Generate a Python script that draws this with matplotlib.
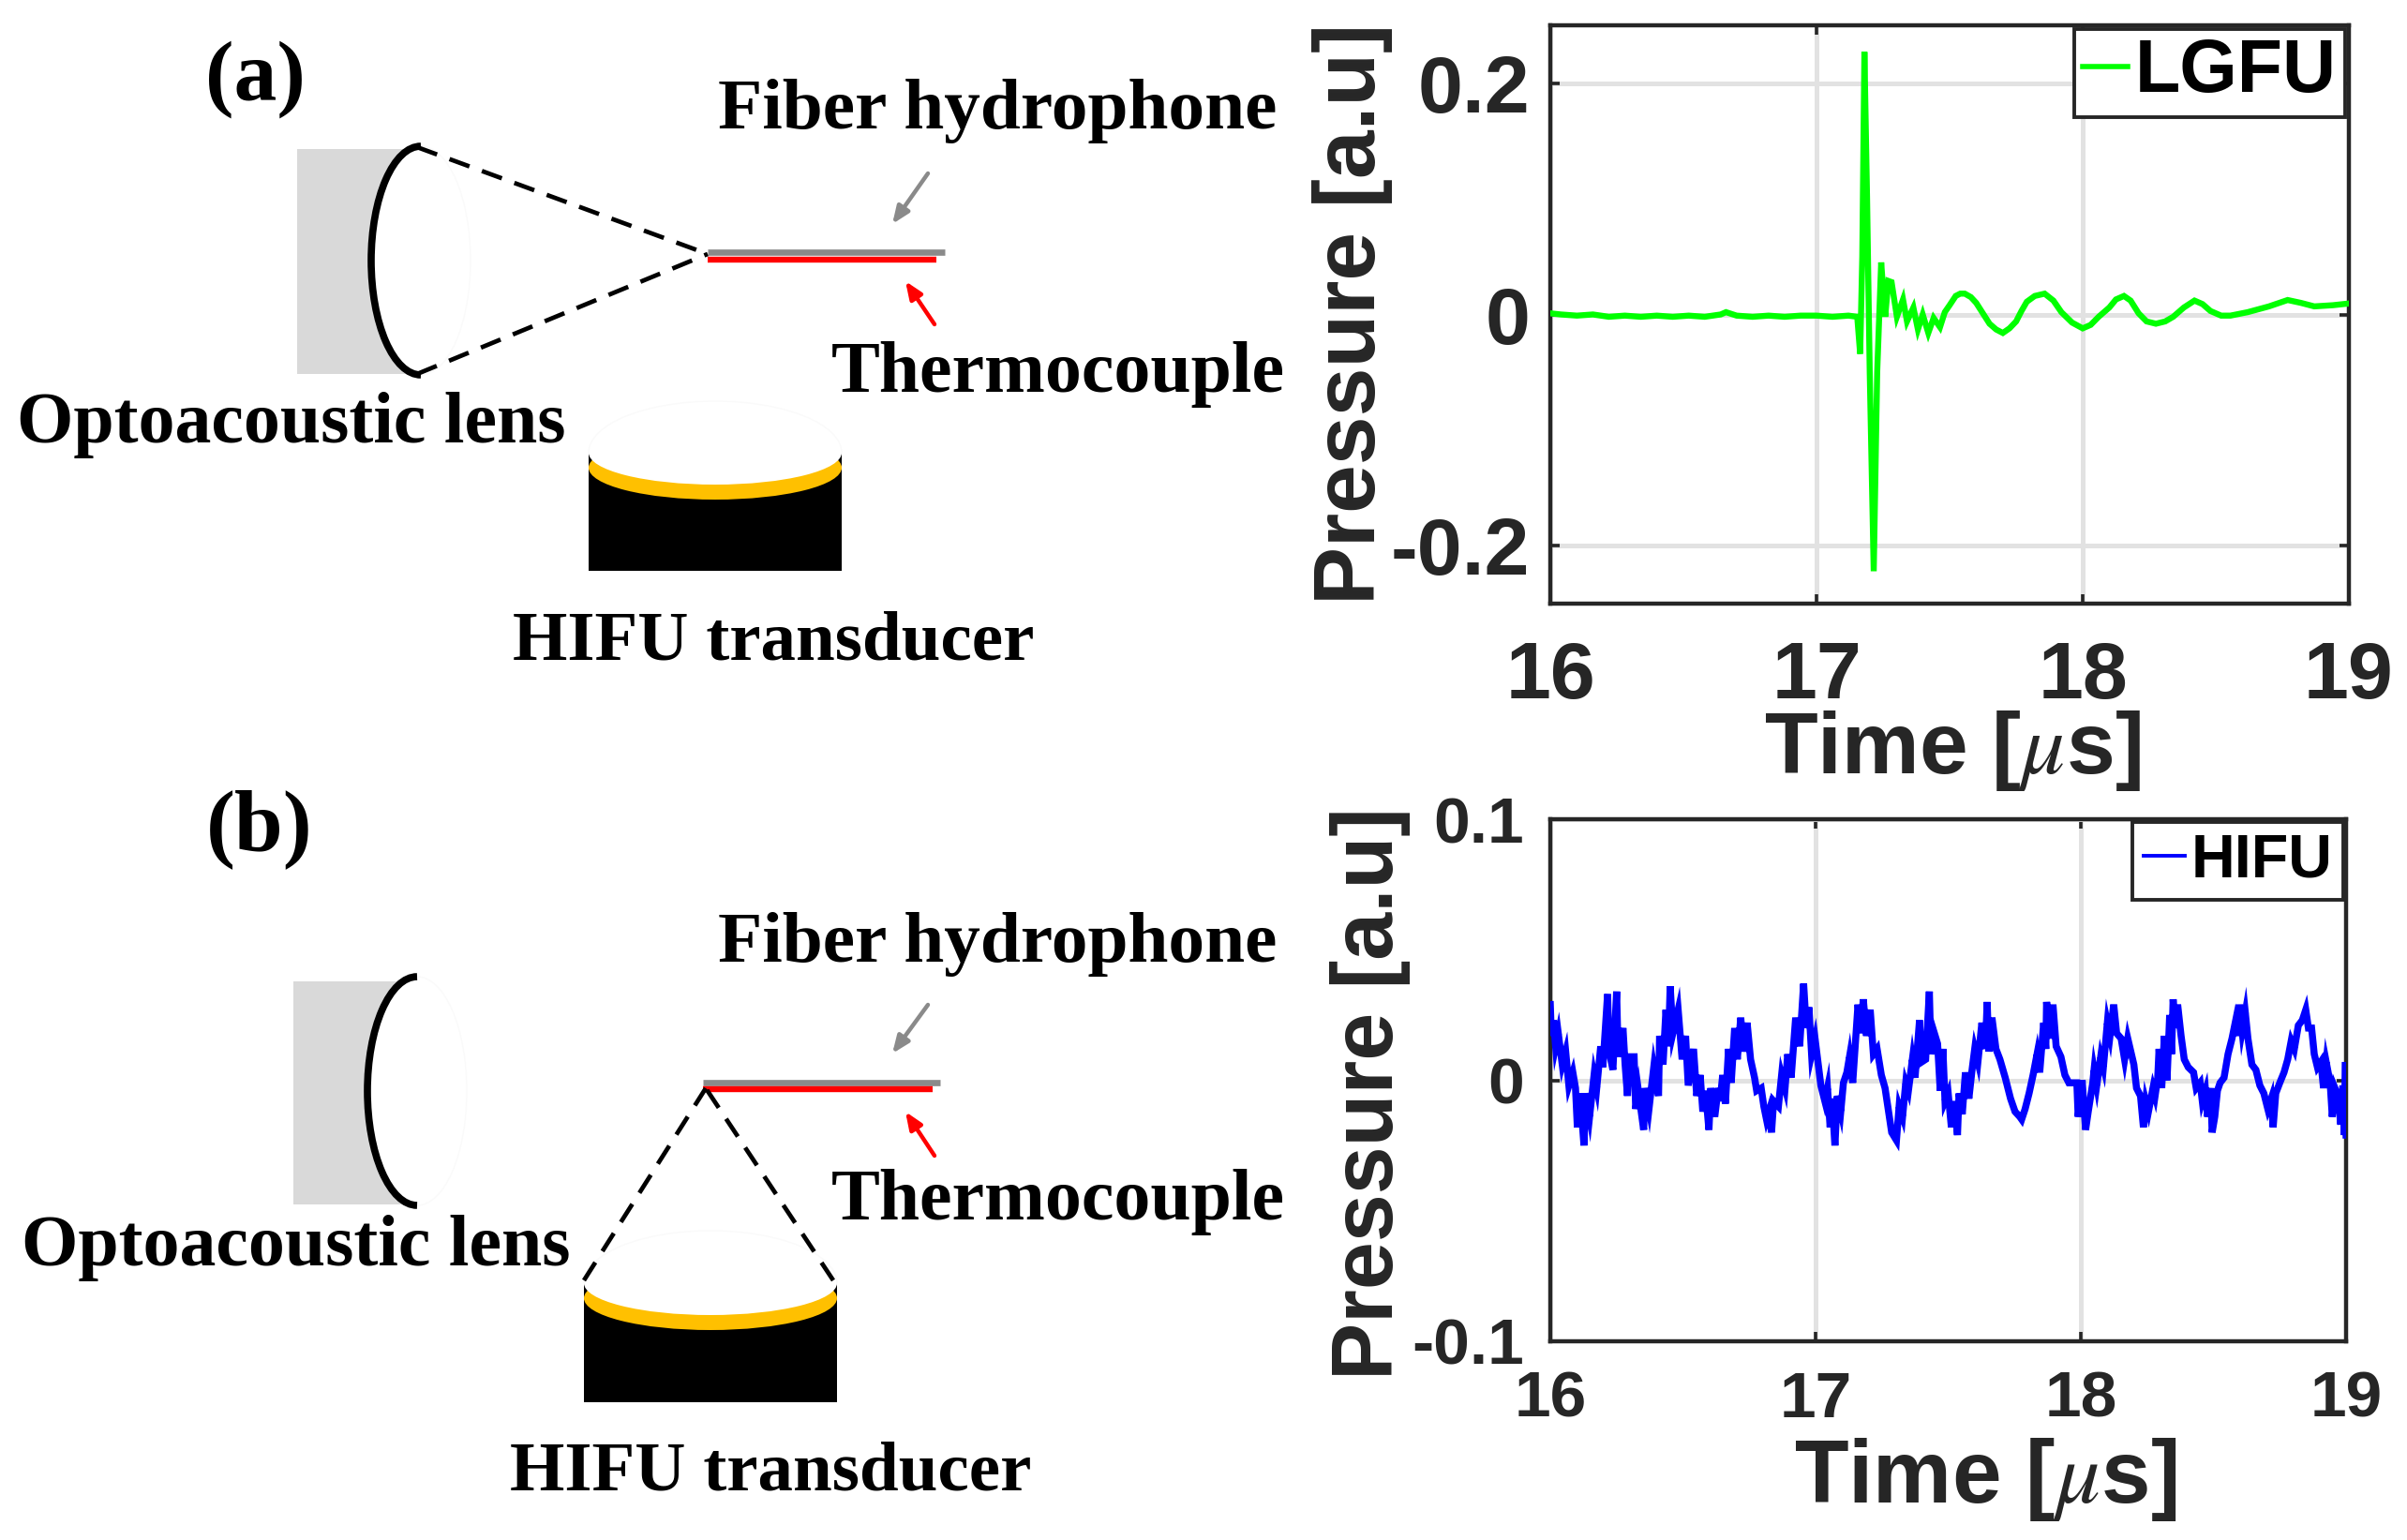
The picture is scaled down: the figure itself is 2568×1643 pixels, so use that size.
import matplotlib
matplotlib.use("Agg")
import matplotlib.pyplot as plt
from matplotlib.patches import Arc, Ellipse, Rectangle

W, H = 2568, 1643
plt.rcParams['axes.unicode_minus'] = False
plt.rcParams['mathtext.fontset'] = 'stix'

# readings of the LGFU trace
lgfu_t = [16.0, 16.04, 16.1, 16.16, 16.22, 16.28, 16.34, 16.4, 16.46, 16.52, 16.58, 16.64, 16.66, 16.7,
          16.76, 16.82, 16.88, 16.94, 17.0, 17.06, 17.12, 17.153, 17.164, 17.172, 17.18, 17.19, 17.2, 17.215,
          17.228, 17.243, 17.258, 17.27, 17.282, 17.302, 17.325, 17.34, 17.364, 17.381, 17.399, 17.42, 17.44,
          17.464, 17.482, 17.5, 17.523, 17.54, 17.557, 17.58, 17.6, 17.625, 17.65, 17.675, 17.7, 17.725, 17.75,
          17.77, 17.79, 17.82, 17.857, 17.89, 17.92, 17.96, 18.0, 18.03, 18.06, 18.1, 18.125, 18.155, 18.18,
          18.21, 18.24, 18.275, 18.31, 18.34, 18.38, 18.42, 18.45, 18.48, 18.52, 18.555, 18.62, 18.7, 18.77,
          18.82, 18.87, 18.94, 19.0]
lgfu_p = [0.001, 0.000, -0.001, 0.000, -0.002, -0.001, -0.002, -0.001, -0.002, -0.001, -0.002, 0.000, 0.002, -0.001,
          -0.002, -0.001, -0.002, -0.001, -0.001, -0.002, -0.001, -0.002, -0.034, 0.05, 0.227, 0.1, -0.05, -0.222,
          -0.05, 0.045, -0.002, 0.029, 0.028, -0.002, 0.013, -0.006, 0.006, -0.013, 0.000, -0.016, -0.003,
          -0.011, 0.002, 0.008, 0.016, 0.018, 0.018, 0.015, 0.010, 0.001, -0.008, -0.013, -0.016, -0.012, -0.006,
          0.003, 0.011, 0.016, 0.018, 0.012, 0.002, -0.007, -0.012, -0.009, -0.002, 0.006, 0.013, 0.016, 0.012,
          0.001, -0.006, -0.008, -0.006, -0.002, 0.006, 0.012, 0.009, 0.003, -0.001, -0.001, 0.002, 0.007, 0.0125,
          0.010, 0.007, 0.008, 0.0095]

# readings of the HIFU trace (upper and lower edge of the noisy band, taken in turn)
hifu_t = [16.000, 16.004, 16.012, 16.020, 16.030, 16.045, 16.058, 16.070, 16.085, 16.095, 16.102, 16.112, 16.127,
          16.133, 16.148, 16.165, 16.175, 16.190, 16.198, 16.216, 16.222, 16.236, 16.250, 16.256, 16.274, 16.282,
          16.291, 16.298, 16.316, 16.322, 16.332, 16.352, 16.358, 16.372, 16.390, 16.408, 16.412, 16.425, 16.436,
          16.445, 16.452, 16.462, 16.482, 16.497, 16.510, 16.520, 16.540, 16.552, 16.565, 16.575, 16.585, 16.598,
          16.605, 16.620, 16.633, 16.640, 16.650, 16.660, 16.672, 16.682, 16.695, 16.705, 16.718, 16.728, 16.742,
          16.755, 16.770, 16.778, 16.795, 16.805, 16.815, 16.824, 16.834, 16.842, 16.860, 16.872, 16.885, 16.895,
          16.908, 16.925, 16.940, 16.955, 16.965, 16.975, 16.985, 16.998, 17.020, 17.035, 17.045, 17.055, 17.062,
          17.073, 17.082, 17.095, 17.105, 17.118, 17.128, 17.140, 17.160, 17.170, 17.180, 17.192, 17.206, 17.218,
          17.232, 17.248, 17.262, 17.278, 17.287, 17.305, 17.315, 17.328, 17.340, 17.350, 17.365, 17.375, 17.392,
          17.400, 17.415, 17.429, 17.435, 17.448, 17.460, 17.470, 17.480, 17.488, 17.500, 17.512, 17.522, 17.535,
          17.541, 17.553, 17.565, 17.578, 17.590, 17.600, 17.612, 17.627, 17.640, 17.647, 17.653, 17.665, 17.680,
          17.695, 17.715, 17.735, 17.752, 17.770, 17.777, 17.790, 17.805, 17.820, 17.835, 17.845, 17.860, 17.868,
          17.871, 17.885, 17.895, 17.907, 17.925, 17.940, 17.955, 17.985, 17.990, 18.005, 18.018, 18.028, 18.045,
          18.050, 18.060, 18.075, 18.085, 18.100, 18.110, 18.124, 18.135, 18.152, 18.165, 18.177, 18.200, 18.210,
          18.225, 18.236, 18.245, 18.255, 18.272, 18.280, 18.290, 18.295, 18.305, 18.315, 18.325, 18.335, 18.342,
          18.348, 18.356, 18.365, 18.378, 18.390, 18.405, 18.425, 18.435, 18.450, 18.458, 18.470, 18.478, 18.490,
          18.495, 18.505, 18.515, 18.525, 18.540, 18.555, 18.570, 18.582, 18.590, 18.598, 18.608, 18.620, 18.630,
          18.645, 18.660, 18.675, 18.690, 18.705, 18.718, 18.725, 18.735, 18.750, 18.766, 18.780, 18.793, 18.805,
          18.820, 18.835, 18.848, 18.858, 18.870, 18.880, 18.892, 18.905, 18.915, 18.925, 18.940, 18.948, 18.958,
          18.970, 18.980, 18.988, 18.993, 18.998, 19.000]
hifu_p = [29, 17, 23, 13, 18, 6, 11, -2, 3, -3, -18, -5, -25,
          -5, -14, 2, -3, 13, 5, 33, 11, 4, 34, 9, 20, 6,
          -6, 9, 9, -11, -4, -19, -3, -11, 5, -6, 17, 6, 27,
          13, 36, 18, 27, 8, 17, -2, 12, -6, 2, -12, -4, -19,
          -3, -14, -3, -8, 2, -9, 12, -1, 20, 8, 24, 11, 22,
          8, 1, -4, -3, -10, -15, -12, -20, -8, -10, 2, -3, 10,
          1, 24, 13, 37, 20, 28, 10, 16, -2, -8, -3, -18, -7,
          -25, -6, -12, -1, 3, 9, -1, 29, 18, 31, 17, 27, 10,
          12, 2, -3, -14, -20, -23, -10, -14, -1, -4, 8, 1, 23,
          7, 8, 34, 10, 18, 14, -4, 12, -8, -5, -18, -8, -21,
          -5, -13, 3, -7, 4, 12, 7, 22, 12, 30, 11, 24, 12,
          8, 1, -7, -12, -14, -15, -11, -5, 2, 10, 3, 22, 12,
          30, 16, 29, 13, 9, 2, -1, -1, -14, 0, -19, -12, -1,
          4, -2, 9, 5, 22, 17, 29, 18, 16, 8, 16, 6, -3,
          -6, -18, -8, -12, -3, -6, 1, 12, -3, 17, 0, 25, 10,
          31, 20, 29, 17, 8, 5, 3, -3, -1, -8, -4, -14, -3,
          -20, -14, -4, -1, 1, 10, 16, 22, 17, 29, 19, 26, 16,
          6, 4, -2, -5, -11, -7, -18, -5, -1, 3, 8, 15, 12,
          21, 23, 27, 20, 20, 10, 5, 7, -3, 7, -1, -14, -3,
          -6, -17, -2, -21, 7, -21]
hifu_p = [p / 1000 for p in hifu_p]

x_ticks = [16, 17, 18, 19]
x_labels = ['16', '17', '18', '19']
lgfu_yticks = [-0.2, 0, 0.2]
lgfu_ylabels = ['-0.2', '0', '0.2']
hifu_yticks = [-0.1, 0, 0.1]
hifu_ylabels = ['-0.1', '0', '0.1']

dark = '#262626'
sans = 'Liberation Sans'
serif = 'Liberation Serif'

fig = plt.figure(figsize=(W / 100, H / 100), dpi=100, facecolor='white')

# whole figure in pixels, for the sketches and the label positions
sk = fig.add_axes([0, 0, 1, 1])
sk.set_xlim(0, W)
sk.set_ylim(H, 0)
sk.axis('off')


def chart(left, right, top, bottom, t, p, color, lw, label, yticks, ylabels, ylim, tick_fs, xpad, ypad,
          xlabel_fs, xlabel_pos, ylabel_fs, ylabel_pos, leg_fs, leg_lw, leg_kw):
    ax = fig.add_axes([left / W, 1 - bottom / H, (right - left) / W, (bottom - top) / H])
    ax.plot(t, p, color=color, lw=lw, label=label, solid_joinstyle='miter', zorder=3)
    ax.set_xlim(16, 19)
    ax.set_ylim(*ylim)
    ax.set_xticks(x_ticks, x_labels)
    ax.set_yticks(yticks, ylabels)
    ax.grid(True, color='#e2e2e2', lw=3.6)
    ax.set_axisbelow(True)
    ax.tick_params(axis='both', direction='in', top=True, right=True, length=7, width=2.6, color=dark,
                   labelcolor=dark, labelsize=tick_fs)
    ax.tick_params(axis='x', pad=xpad)
    ax.tick_params(axis='y', pad=ypad)
    for lab in ax.get_xticklabels() + ax.get_yticklabels():
        lab.set_fontfamily(sans)
        lab.set_fontweight('bold')
    for s in ax.spines.values():
        s.set_color(dark)
        s.set_linewidth(3.2)
    ax.set_xlabel(r'Time [$\mu$s]', fontsize=xlabel_fs, fontfamily=sans, fontweight='bold', color=dark, va='baseline')
    ax.xaxis.set_label_coords(xlabel_pos[0], xlabel_pos[1], transform=sk.transData)
    ax.set_ylabel('Pressure [a.u]', fontsize=ylabel_fs, fontfamily=sans, fontweight='bold', color=dark, va='baseline')
    ax.yaxis.set_label_coords(ylabel_pos[0], ylabel_pos[1], transform=sk.transData)
    leg = ax.legend(loc='upper right', fancybox=False, framealpha=1, edgecolor=dark,
                    prop={'family': sans, 'weight': 'bold', 'size': leg_fs}, labelcolor='black', **leg_kw)
    leg.get_frame().set_linewidth(2.8)
    leg.get_lines()[0].set_linewidth(leg_lw)
    return ax


chart(1654, 2506, 27, 644, lgfu_t, lgfu_p, '#00ff00', 4.6, 'LGFU', lgfu_yticks, lgfu_ylabels, (-0.25, 0.25),
      62, 28, 15.5, 67, (2083, 825), 67, (1467, 335), 57, 4.0,
      dict(handlelength=0.6, handletextpad=0.1, borderpad=0.12, borderaxespad=0.05, labelspacing=0))
chart(1654, 2503, 874, 1431, hifu_t, hifu_p, '#0000ff', 5.4, 'HIFU', hifu_yticks, hifu_ylabels, (-0.1, 0.1),
      50, 22, 20, 68, (2118, 1603), 66, (1486, 1167), 46.5, 2.8,
      dict(handlelength=0.68, handletextpad=0.1, borderpad=0.18, borderaxespad=0.05, labelspacing=0))


def setup(rect_x, rect_y, lens_cx, lens_cy, fiber_x, fiber_y, red_x, red_y, gray_arrow, red_arrow,
          tr_x, tr_y, gold_shift, inner_h, dome_h):
    # backing block and lens
    sk.add_patch(Rectangle((rect_x[0], rect_y[0]), rect_x[1] - rect_x[0], rect_y[1] - rect_y[0],
                           fc='#d9d9d9', ec='none', zorder=1))
    sk.add_patch(Ellipse((lens_cx, lens_cy), 106, 244, fc='white', ec='#fafafa', lw=1, zorder=2))
    sk.add_patch(Arc((lens_cx, lens_cy), 106, 244, theta1=90, theta2=270, color='black', lw=5.5, zorder=3))
    # fiber and thermocouple
    sk.plot(fiber_x, [fiber_y, fiber_y], color='#8a8a8a', lw=4.8, solid_capstyle='butt', zorder=3)
    sk.plot(red_x, [red_y, red_y], color='#ff0000', lw=4.6, solid_capstyle='butt', zorder=3)
    sk.annotate('', xy=gray_arrow[1], xytext=gray_arrow[0],
                arrowprops=dict(arrowstyle='-|>,head_width=0.45,head_length=1.1', color='#8a8a8a', lw=3.2,
                                shrinkA=0, shrinkB=0))
    sk.annotate('', xy=red_arrow[1], xytext=red_arrow[0],
                arrowprops=dict(arrowstyle='-|>,head_width=0.45,head_length=1.1', color='#ff0000', lw=3.2,
                                shrinkA=0, shrinkB=0))
    # transducer
    tr_w = tr_x[1] - tr_x[0]
    tr_c = (tr_x[0] + tr_x[1]) / 2
    body = Rectangle((tr_x[0], tr_y[0]), tr_w, tr_y[1] - tr_y[0], fc='black', ec='none', zorder=1)
    sk.add_patch(body)
    gold = Ellipse((tr_c, tr_y[0] + gold_shift), tr_w, 2 * inner_h, fc='#ffc000', ec='none', zorder=2)
    sk.add_patch(gold)
    gold.set_clip_path(body)
    inner = Ellipse((tr_c, tr_y[0]), tr_w, 2 * inner_h, fc='white', ec='none', zorder=3)
    sk.add_patch(inner)
    inner.set_clip_path(body)
    sk.add_patch(Arc((tr_c, tr_y[0]), tr_w, 2 * dome_h, theta1=180, theta2=360, color='#fafafa', lw=1, zorder=2))


def beam(start_a, start_b, focus):
    for s in (start_a, start_b):
        sk.plot([s[0], focus[0]], [s[1], focus[1]], color='black', lw=3.4, dashes=(4.8, 3.0), zorder=4)


def label(x, y, s, size):
    sk.text(x, y, s, ha='center', va='baseline', fontfamily=serif, fontweight='bold', fontsize=size, color='black')


# (a)
setup((317, 449), (159, 399), 449, 278, (755, 1008), 269, (755, 999), 277, ((990, 185), (952, 239)),
      ((997, 346), (966, 300)), (628, 898), (483, 609), 16, 34, 55)
beam((445, 157), (445, 399), (755, 271))
label(272, 107, '(a)', 66)
label(1064, 137, 'Fiber hydrophone', 55.6)
label(1129, 418, 'Thermocouple', 56)
label(311, 472, 'Optoacoustic lens', 56)
label(825, 704, 'HIFU transducer', 54)

# (b)
setup((313, 440), (1047, 1285), 445, 1164, (750, 1003), 1155, (750, 995), 1162, ((990, 1072), (952, 1124)),
      ((997, 1233), (966, 1186)), (623, 893), (1369, 1496), 16, 34, 56)
beam((623, 1366), (889, 1366), (753, 1161))
label(277, 907, '(b)', 67)
label(1064, 1026, 'Fiber hydrophone', 55.6)
label(1129, 1301, 'Thermocouple', 56)
label(316, 1350, 'Optoacoustic lens', 56)
label(822, 1590, 'HIFU transducer', 54)

fig.savefig('out.png', dpi=100, facecolor='white')
